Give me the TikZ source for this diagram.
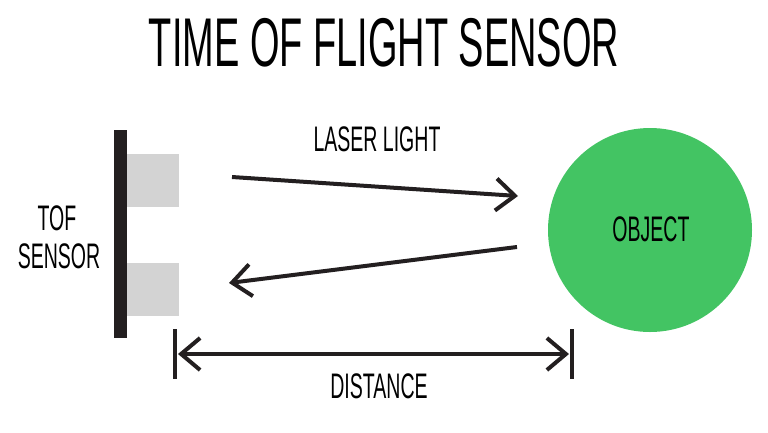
\documentclass[tikz,border=0pt]{standalone}
\usepackage{fontspec}
\setmainfont{Liberation Sans}[FakeStretch=0.55]
\usetikzlibrary{arrows.meta}
\definecolor{objgreen}{HTML}{43C463}
\definecolor{sensorgray}{HTML}{D3D3D3}
\definecolor{inkblack}{HTML}{231F20}
\tikzset{
  ray/.style={draw=inkblack, line width=4pt, -{Straight Barb[length=19pt,width=32pt,line width=4pt]}},
  span/.style={draw=inkblack, line width=4pt, {Straight Barb[length=19pt,width=32pt,line width=4pt]}-{Straight Barb[length=19pt,width=32pt,line width=4pt]}},
  tick/.style={draw=inkblack, line width=3.5pt},
  lbl/.style={inner sep=0pt, anchor=base, font=\fontsize{35.5}{38}\selectfont},
}
\begin{document}
\begin{tikzpicture}[x=1pt,y=-1pt]
\useasboundingbox (0,0) rectangle (768,432);
% title
\node[lbl, font=\fontsize{69}{74}\selectfont] (title) at (384,66) {TIME OF FLIGHT SENSOR};
% sensor
\fill[inkblack] (114,130) rectangle (127,338);
\node[fill=sensorgray, minimum width=52pt, minimum height=53pt, inner sep=0pt, anchor=north west] (emit) at (127,154) {};
\node[fill=sensorgray, minimum width=52pt, minimum height=53pt, inner sep=0pt, anchor=north west] (recv) at (127,263) {};
\node[lbl] (tof) at (57,230) {TOF};
\node[lbl] (sens) at (59,268) {SENSOR};
% object
\node[circle, fill=objgreen, minimum size=204pt, inner sep=0pt] (obj) at (650,230) {};
\node[lbl] (objlbl) at (651,241) {OBJECT};
% rays
\coordinate (r1s) at (232,177);
\coordinate (r1e) at (518,196);
\coordinate (r2s) at (517,247);
\coordinate (r2e) at (229,283);
\draw[ray] (r1s) -- (r1e);
\draw[ray] (r2s) -- (r2e);
\node[lbl] (laser) at (377,151) {LASER LIGHT};
% distance
\coordinate (tl1) at (175,329);
\coordinate (tl2) at (175,379);
\coordinate (tr1) at (572,329);
\coordinate (tr2) at (572,379);
\draw[tick] (tl1) -- (tl2);
\draw[tick] (tr1) -- (tr2);
\coordinate (dl) at (178,354);
\coordinate (dr) at (569,354);
\draw[span] (dl) -- (dr);
\node[lbl] (dist) at (379,398) {DISTANCE};
\end{tikzpicture}
\end{document}
